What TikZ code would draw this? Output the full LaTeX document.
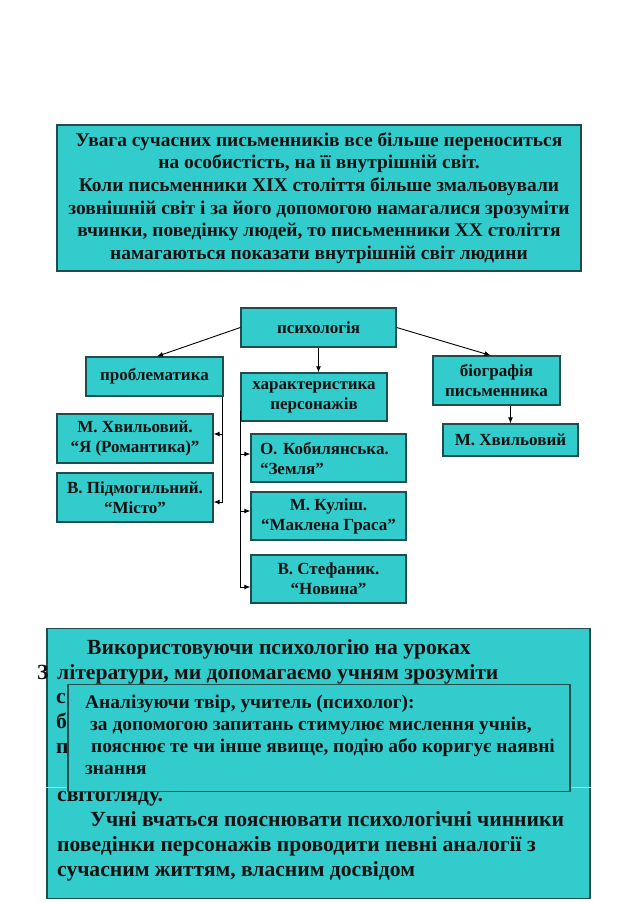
\documentclass[tikz,border=0pt]{standalone}
\usepackage{fontspec}
\setmainfont{Liberation Serif}
\usetikzlibrary{arrows.meta,positioning,calc}
\definecolor{tealF}{HTML}{33CCCC}
\definecolor{edgeC}{HTML}{1F4D4D}
\definecolor{ink}{HTML}{111111}
\definecolor{seamC}{HTML}{8FE3E3}
\tikzset{
  >={Latex[length=6pt,width=5pt]},
  lead/.style={draw=edgeC,fill=tealF,line width=1.3pt,text=ink,align=center,
    font=\fontsize{19.4}{22.7}\selectfont\bfseries,inner sep=0pt},
  blk/.style={draw=edgeC,fill=tealF,line width=1.3pt,text=ink,align=center,
    font=\fontsize{17}{20}\selectfont\bfseries,inner sep=0pt},
  panel/.style={draw=edgeC,fill=tealF,line width=1.3pt,inner sep=0pt},
  bigtxt/.style={font=\fontsize{21.6}{24.6}\selectfont\bfseries,text=ink,anchor=base west,inner sep=0pt},
  boxtxt/.style={font=\fontsize{19.4}{22}\selectfont\bfseries,text=ink,anchor=base west,inner sep=0pt},
  link/.style={->,line width=0.9pt,black},
}
\begin{document}
\begin{tikzpicture}[x=1pt,y=-1pt]
\useasboundingbox (0,0) rectangle (638,903);

\node[lead,minimum width=524pt,minimum height=146pt] (lead) at (319,198)
  {\raisebox{-2pt}{\parbox{520pt}{\centering
   Увага сучасних письменників все більше переноситься\\
   на особистість, на її внутрішній світ.\\
   Коли письменники XIX століття більше змальовували\\
   зовнішній світ і за його допомогою намагалися зрозуміти\\
   вчинки, поведінку людей, то письменники XX століття\\
   намагаються показати внутрішній світ людини}}};

% ================= SCHEME =================
\node[blk,minimum width=155pt,minimum height=39pt] (psych) at (318.5,327.5) {психологія};
\node[blk,minimum width=137pt,minimum height=39pt] (prob) at (154.5,376.5) {проблематика};
\node[blk,minimum width=146pt,minimum height=48pt] (char) at (314,397) {характеристика\\персонажів};
\node[blk,minimum width=127pt,minimum height=49pt] (biog) at (496.5,380.5) {біографія\\письменника};
\node[blk,minimum width=135pt,minimum height=32pt] (khv2) at (510.5,440) {М. Хвильовий};

\node[blk,minimum width=156pt,minimum height=49pt] (khv1) at (135,438.5) {М. Хвильовий.\\“Я (Романтика)”};
\node[blk,minimum width=156pt,minimum height=49pt] (pidm) at (135,497.5) {В. Підмогильний.\\“Місто”};

\node[blk,minimum width=155pt,minimum height=48pt,align=left,text width=137pt] (kob) at (328.5,458) {О. Кобилянська.\\“Земля”};
\node[blk,minimum width=155pt,minimum height=48pt] (kul) at (328.5,516) {М. Куліш.\\“Маклена Граса”};
\node[blk,minimum width=155pt,minimum height=48pt] (stef) at (328.5,579) {В. Стефаник.\\“Новина”};

\draw[link] (psych.west) -- ([xshift=2.5pt]prob.north);
\draw[link] (psych.south) -- (psych.south |- char.north);
\draw[link] (psych.east) -- ([xshift=-6pt]biog.north);
\draw[link] (khv2.north |- biog.south) -- (khv2.north);

\draw[link] ([xshift=-1pt]prob.south east) |- ([yshift=4.5pt]khv1.east);
\draw[link] ([xshift=-1pt]prob.south east) |- ([yshift=-4.5pt]pidm.east);

\draw[link] ([yshift=11pt]char.south west) |- ([yshift=4pt]kob.west);
\draw[link] ([yshift=11pt]char.south west) |- ([yshift=5pt]kul.west);
\draw[link] ([yshift=11pt]char.south west) |- ([yshift=-8pt]stef.west);

% ================= BOTTOM PANEL =================
\node[panel,minimum width=543pt,minimum height=270pt] (big) at (318.5,763.5) {};
\draw[seamC,line width=0.8pt] (big.west |- 0,787) -- (big.east |- 0,787);

\node[bigtxt] (b1) at (87,654.7) {Використовуючи психологію на уроках};
\node[bigtxt] (b2z) at (37,679.3) {З};
\node[bigtxt] (b2) at (57,679.3) {літератури, ми допомагаємо учням зрозуміти};
\node[bigtxt] (b3) at (56,703.9) {с};
\node[bigtxt] (b4) at (56,728.5) {б};
\node[bigtxt] (b5) at (56,753.1) {п};
\node[bigtxt] (b7) at (57,801.5) {світогляду.};
\node[bigtxt] (b8) at (90,826.9) {Учні вчаться пояснювати психологічні чинники};
\node[bigtxt] (b9) at (57,851.5) {поведінки персонажів проводити певні аналогії з};
\node[bigtxt] (b10) at (57,876.1) {сучасним життям, власним досвідом};

\node[panel,minimum width=502pt,minimum height=107pt] (inner) at (319,738) {};
\node[boxtxt] (i1) at (85,708.5) {Аналізуючи твір, учитель (психолог):};
\node[boxtxt] (i2) at (90,730.5) {за допомогою запитань стимулює мислення учнів,};
\node[boxtxt] (i3) at (91,752.5) {пояснює те чи інше явище, подію або коригує наявні};
\node[boxtxt] (i4) at (85,774.5) {знання};

\end{tikzpicture}
\end{document}
